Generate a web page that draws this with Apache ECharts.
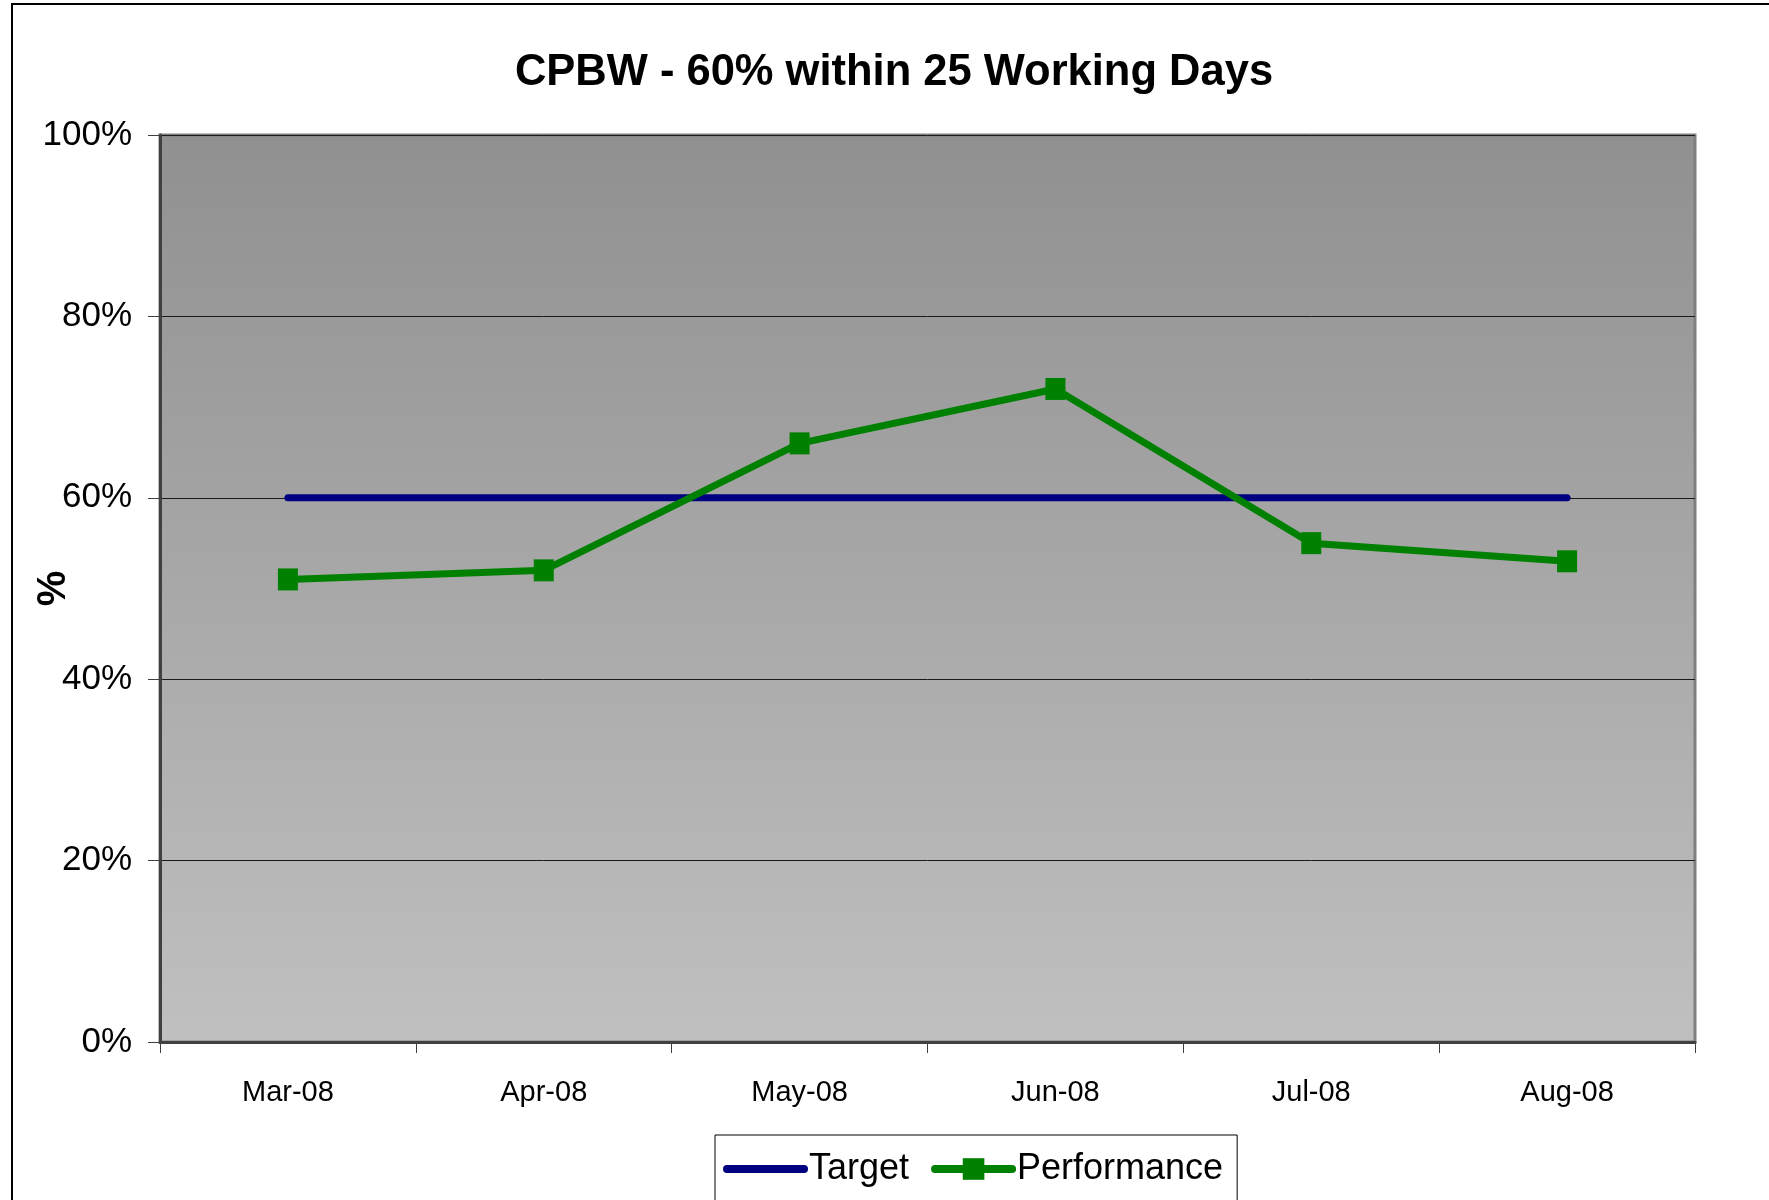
<!DOCTYPE html>
<html>
<head>
<meta charset="utf-8">
<title>CPBW - 60% within 25 Working Days</title>
<script src="https://cdn.jsdelivr.net/npm/echarts@6/dist/echarts.min.js"></script>
<style>
  html, body { margin: 0; padding: 0; background: #fff; }
  #chart { width: 1769px; height: 1200px; }
</style>
</head>
<body>
<div id="chart"></div>
<script>
// Monthly categories and series values (percent)
const months = ['Mar-08', 'Apr-08', 'May-08', 'Jun-08', 'Jul-08', 'Aug-08'];
const target = [60, 60, 60, 60, 60, 60];
const performance = [51, 52, 66, 72, 55, 53];
const yTicks = [0, 20, 40, 60, 80, 100];

const FONT = '"Liberation Sans", Arial, sans-serif';

const chart = echarts.init(document.getElementById('chart'), null, { renderer: 'canvas' });

chart.setOption({
  animation: false,
  backgroundColor: '#ffffff',
  title: {
    text: 'CPBW - 60% within 25 Working Days',
    left: 889,
    top: 46,
    textAlign: 'center',
    textStyle: { fontFamily: FONT, fontWeight: 'bold', fontSize: 43.5, color: '#000' }
  },
  graphic: [{
    type: 'rect',
    shape: { x: 12, y: 4, width: 1800, height: 1250 },
    style: { fill: 'none', stroke: '#000', lineWidth: 2 },
    silent: true,
    z: -10
  }],
  grid: {
    left: 160, right: 74, top: 135, bottom: 158,
    containLabel: false,
    outerBoundsMode: 'none',
    show: true,
    borderColor: '#7f7f7f',
    borderWidth: 3,
    backgroundColor: {
      type: 'linear', x: 0, y: 0, x2: 0, y2: 1,
      colorStops: [
        { offset: 0, color: '#909090' },
        { offset: 1, color: '#c0c0c0' }
      ]
    }
  },
  legend: {
    left: 715,
    top: 1135,
    orient: 'horizontal',
    backgroundColor: '#ffffff',
    borderColor: '#000000',
    borderWidth: 1,
    borderRadius: 0,
    padding: [16, 14, 14, 8],
    itemWidth: 77,
    itemHeight: 27,
    itemGap: 22,
    lineStyle: { width: 8, cap: 'round' },
    textStyle: { fontFamily: FONT, fontSize: 36, color: '#000', padding: [0, 0, 0, 0] },
    data: [
      { name: 'Target', itemStyle: { opacity: 0 } },
      { name: 'Performance' }
    ]
  },
  xAxis: {
    type: 'category',
    data: months,
    boundaryGap: true,
    axisLine: { show: true, lineStyle: { color: '#404040', width: 3 } },
    axisTick: { show: true, inside: false, length: 11, alignWithLabel: false, lineStyle: { color: '#404040', width: 1 } },
    axisLabel: { fontFamily: FONT, fontSize: 29, color: '#000', margin: 36 },
    splitLine: { show: false }
  },
  yAxis: {
    type: 'value',
    min: 0, max: 100, interval: 20,
    name: '%',
    nameLocation: 'middle',
    nameRotate: 90,
    nameGap: 86,
    nameMoveOverlap: false,
    nameTextStyle: { fontFamily: FONT, fontWeight: 'bold', fontSize: 40, color: '#000' },
    axisLine: { show: true, lineStyle: { color: '#404040', width: 3 } },
    axisTick: { show: true, inside: false, length: 12, lineStyle: { color: '#404040', width: 1 } },
    axisLabel: {
      fontFamily: FONT, fontSize: 35, color: '#000', margin: 28,
      formatter: v => yTicks.includes(v) ? v + '%' : ''
    },
    splitLine: { show: true, lineStyle: { color: '#1a1a1a', width: 1 } }
  },
  series: [
    {
      name: 'Target',
      type: 'line',
      data: target,
      symbol: 'none',
      color: '#000080',
      lineStyle: { color: '#000080', width: 7, cap: 'round', join: 'round' },
      z: 3
    },
    {
      name: 'Performance',
      type: 'line',
      data: performance,
      symbol: 'rect',
      symbolSize: [20, 22],
      color: '#008000',
      itemStyle: { color: '#008000' },
      lineStyle: { color: '#008000', width: 7, cap: 'round', join: 'round' },
      z: 4
    }
  ]
});
</script>
</body>
</html>
